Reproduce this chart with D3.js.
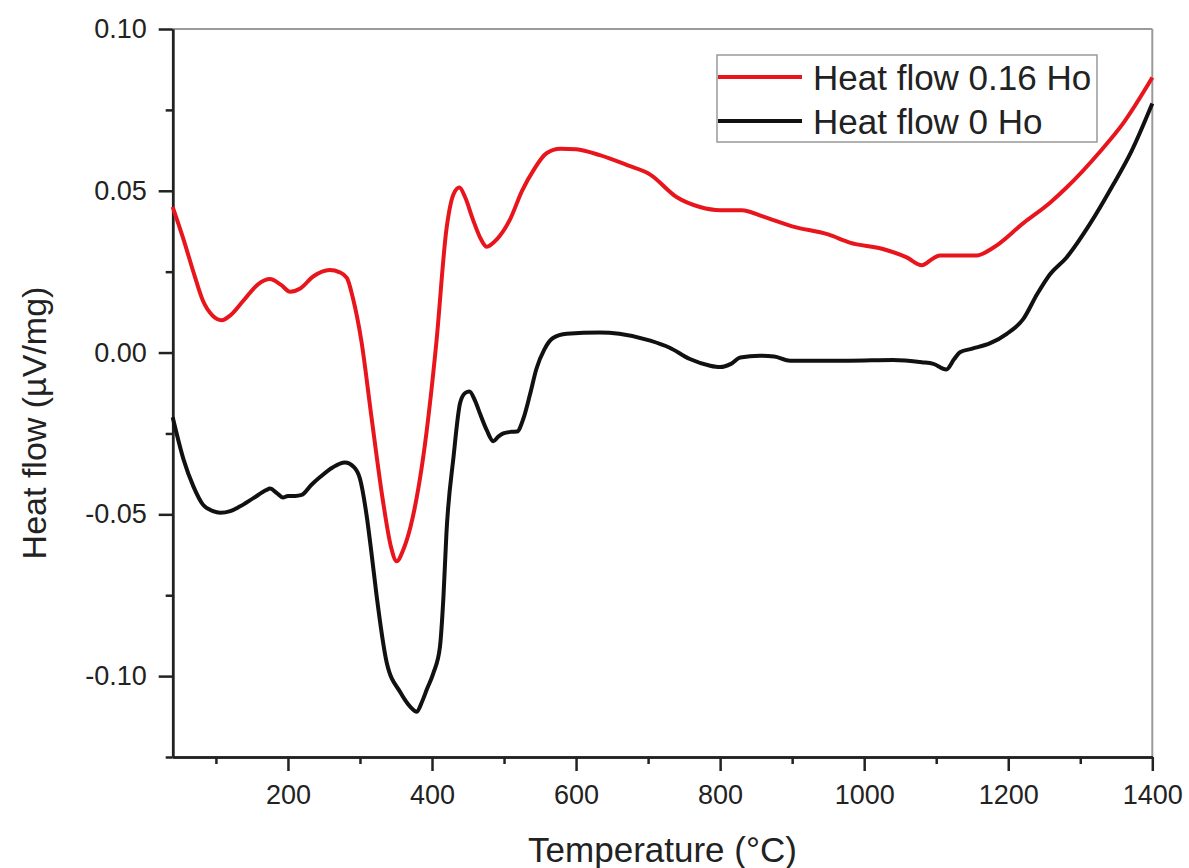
<!DOCTYPE html>
<html>
<head>
<meta charset="utf-8">
<script src="https://cdn.jsdelivr.net/npm/d3@7"></script>
<style>
  body { margin: 0; background: #fff; }
  svg text { font-family: "Liberation Sans", Arial, sans-serif; fill: #222; }
</style>
</head>
<body>
<svg class="chart" width="1189" height="868"></svg>
<script>
// temperatures (°C) and heat flow (µV/mg)
var tempRed = [40, 55, 70, 82, 95, 108, 120, 138, 158, 175, 190, 203, 217, 235, 258, 272, 282, 290, 302, 316,
  332, 343, 351, 360, 370, 388, 406, 420, 430, 438, 446, 457, 468, 476, 490, 508, 525, 541, 559, 578,
  600, 633, 670, 703, 740, 772, 800, 830, 860, 900, 950, 980, 1026, 1059, 1080, 1095, 1105, 1130, 1156, 1179,
  1221, 1258, 1281, 1327, 1360, 1400];
var flowRed = [0.045, 0.035, 0.024, 0.016, 0.0115, 0.010, 0.0115, 0.016, 0.021, 0.0227, 0.021, 0.0188, 0.0198, 0.0235, 0.0255, 0.0248, 0.023, 0.017, 0.0035, -0.020,
  -0.046, -0.060, -0.0645, -0.061, -0.054, -0.032, 0.003, 0.038, 0.049, 0.051, 0.048, 0.041, 0.035, 0.0327, 0.035, 0.041, 0.050, 0.0564, 0.0616, 0.063,
  0.0628, 0.061, 0.058, 0.055, 0.048, 0.045, 0.044, 0.044, 0.042, 0.039, 0.0365, 0.034, 0.032, 0.0294, 0.027, 0.029, 0.030, 0.030, 0.030, 0.0324,
  0.040, 0.0463, 0.051, 0.062, 0.071, 0.085];

var tempBlack = [40, 55, 69, 82, 96, 106, 120, 133, 152, 170, 175, 185, 193, 200, 210, 219, 232, 245, 262, 279,
  292, 300, 309, 316, 323, 337, 356, 370, 379, 386, 393, 402, 411, 416, 420, 430, 439, 446, 452, 460,
  467, 476, 485, 492, 499, 510, 518, 527, 536, 545, 556, 568, 587, 633, 660, 703, 730, 758, 785, 800,
  815, 828, 855, 875, 897, 940, 980, 1040, 1080, 1096, 1114, 1125, 1133, 1150, 1175, 1198, 1221, 1240, 1258, 1281,
  1313, 1346, 1371, 1400];
var flowBlack = [-0.020, -0.033, -0.0415, -0.047, -0.049, -0.0495, -0.049, -0.0476, -0.045, -0.0425, -0.042, -0.0435, -0.0448, -0.0443, -0.0443, -0.044, -0.041, -0.0384, -0.0355, -0.034,
  -0.0355, -0.039, -0.050, -0.062, -0.075, -0.0957, -0.105, -0.1095, -0.111, -0.108, -0.104, -0.099, -0.091, -0.075, -0.056, -0.032, -0.0156, -0.0125, -0.012, -0.015,
  -0.0191, -0.024, -0.0274, -0.026, -0.025, -0.0245, -0.0244, -0.0203, -0.013, -0.005, 0.001, 0.0045, 0.0058, 0.0062, 0.0058, 0.0037, 0.0015, -0.002, -0.004, -0.0045,
  -0.0035, -0.0015, -0.001, -0.0012, -0.0025, -0.0025, -0.0025, -0.0023, -0.003, -0.0035, -0.0052, -0.002, 0.0001, 0.0012, 0.0029, 0.0058, 0.0104, 0.018, 0.0242, 0.0294,
  0.0396, 0.052, 0.0622, 0.077];

var xMajor = [200, 400, 600, 800, 1000, 1200, 1400];
var xMinor = [100, 300, 500, 700, 900, 1100, 1300];
var yMajor = [-0.10, -0.05, 0.00, 0.05, 0.10];
var yMinor = [-0.125, -0.075, -0.025, 0.025, 0.075];

var seriesNames = ["Heat flow 0.16 Ho", "Heat flow 0 Ho"];
var seriesColors = ["#e8161c", "#111111"];

var plotLeft = 172.7, plotRight = 1152.3, plotTop = 29, plotBottom = 757;

var x = d3.scaleLinear().domain([40, 1400]).range([plotLeft, plotRight]);
var y = d3.scaleLinear().domain([-0.125, 0.10]).range([plotBottom, plotTop]);

var svg = d3.select(".chart");

// grey top / right frame
svg.append("line").attr("x1", plotLeft).attr("x2", plotRight).attr("y1", plotTop).attr("y2", plotTop)
  .attr("stroke", "#9a9a9a").attr("stroke-width", 2);
svg.append("line").attr("x1", plotRight).attr("x2", plotRight).attr("y1", plotTop).attr("y2", plotBottom)
  .attr("stroke", "#9a9a9a").attr("stroke-width", 2);

function styleAxis(g) {
  g.select(".domain").attr("stroke", "#222").attr("stroke-width", 2.5);
  g.selectAll(".tick line").attr("stroke", "#222").attr("stroke-width", 2.5);
  g.selectAll("text").style("font-size", "27px").attr("fill", "#222");
}

svg.append("g")
  .attr("transform", "translate(0," + plotBottom + ")")
  .call(d3.axisBottom(x).tickValues(xMinor).tickSize(7).tickSizeOuter(0).tickFormat(""))
  .call(styleAxis);
svg.append("g")
  .attr("transform", "translate(0," + plotBottom + ")")
  .call(d3.axisBottom(x).tickValues(xMajor).tickSize(14).tickSizeOuter(0).tickPadding(14).tickFormat(d3.format("d")))
  .call(styleAxis);

svg.append("g")
  .attr("transform", "translate(" + plotLeft + ",0)")
  .call(d3.axisLeft(y).tickValues(yMinor).tickSize(7).tickSizeOuter(0).tickFormat(""))
  .call(styleAxis);
svg.append("g")
  .attr("transform", "translate(" + plotLeft + ",0)")
  .call(d3.axisLeft(y).tickValues(yMajor).tickSize(14).tickSizeOuter(0).tickPadding(12)
    .tickFormat(function(d) { return d.toFixed(2); }))
  .call(styleAxis);

// axis titles
svg.append("text")
  .attr("x", (plotLeft + plotRight) / 2)
  .attr("y", 862)
  .attr("text-anchor", "middle")
  .style("font-size", "35px")
  .text("Temperature (°C)");

svg.append("text")
  .attr("transform", "translate(46,423) rotate(-90)")
  .attr("text-anchor", "middle")
  .style("font-size", "34px")
  .text("Heat flow (µV/mg)");

// curves
var line = d3.line()
  .x(function(d) { return x(d[0]); })
  .y(function(d) { return y(d[1]); })
  .curve(d3.curveMonotoneX);

var series = [
  d3.zip(tempRed, flowRed),
  d3.zip(tempBlack, flowBlack)
];

svg.selectAll(".series")
  .data(series)
  .enter()
  .append("path")
  .attr("class", "series")
  .attr("d", line)
  .attr("fill", "none")
  .attr("stroke", function(d, i) { return seriesColors[i]; })
  .attr("stroke-width", 4)
  .attr("stroke-linejoin", "round");

// legend
var legend = svg.append("g");
legend.append("rect")
  .attr("x", 717).attr("y", 55)
  .attr("width", 380).attr("height", 87)
  .attr("fill", "#fff")
  .attr("stroke", "#999").attr("stroke-width", 1.5);

var rows = legend.selectAll(".row")
  .data(seriesNames)
  .enter()
  .append("g")
  .attr("transform", function(d, i) { return "translate(718," + (77 + i * 44) + ")"; });

rows.append("line")
  .attr("x1", 0).attr("x2", 84)
  .attr("stroke", function(d, i) { return seriesColors[i]; })
  .attr("stroke-width", 4);

rows.append("text")
  .attr("x", 95)
  .attr("dy", "0.36em")
  .style("font-size", "35px")
  .text(function(d) { return d; });
</script>
</body>
</html>
